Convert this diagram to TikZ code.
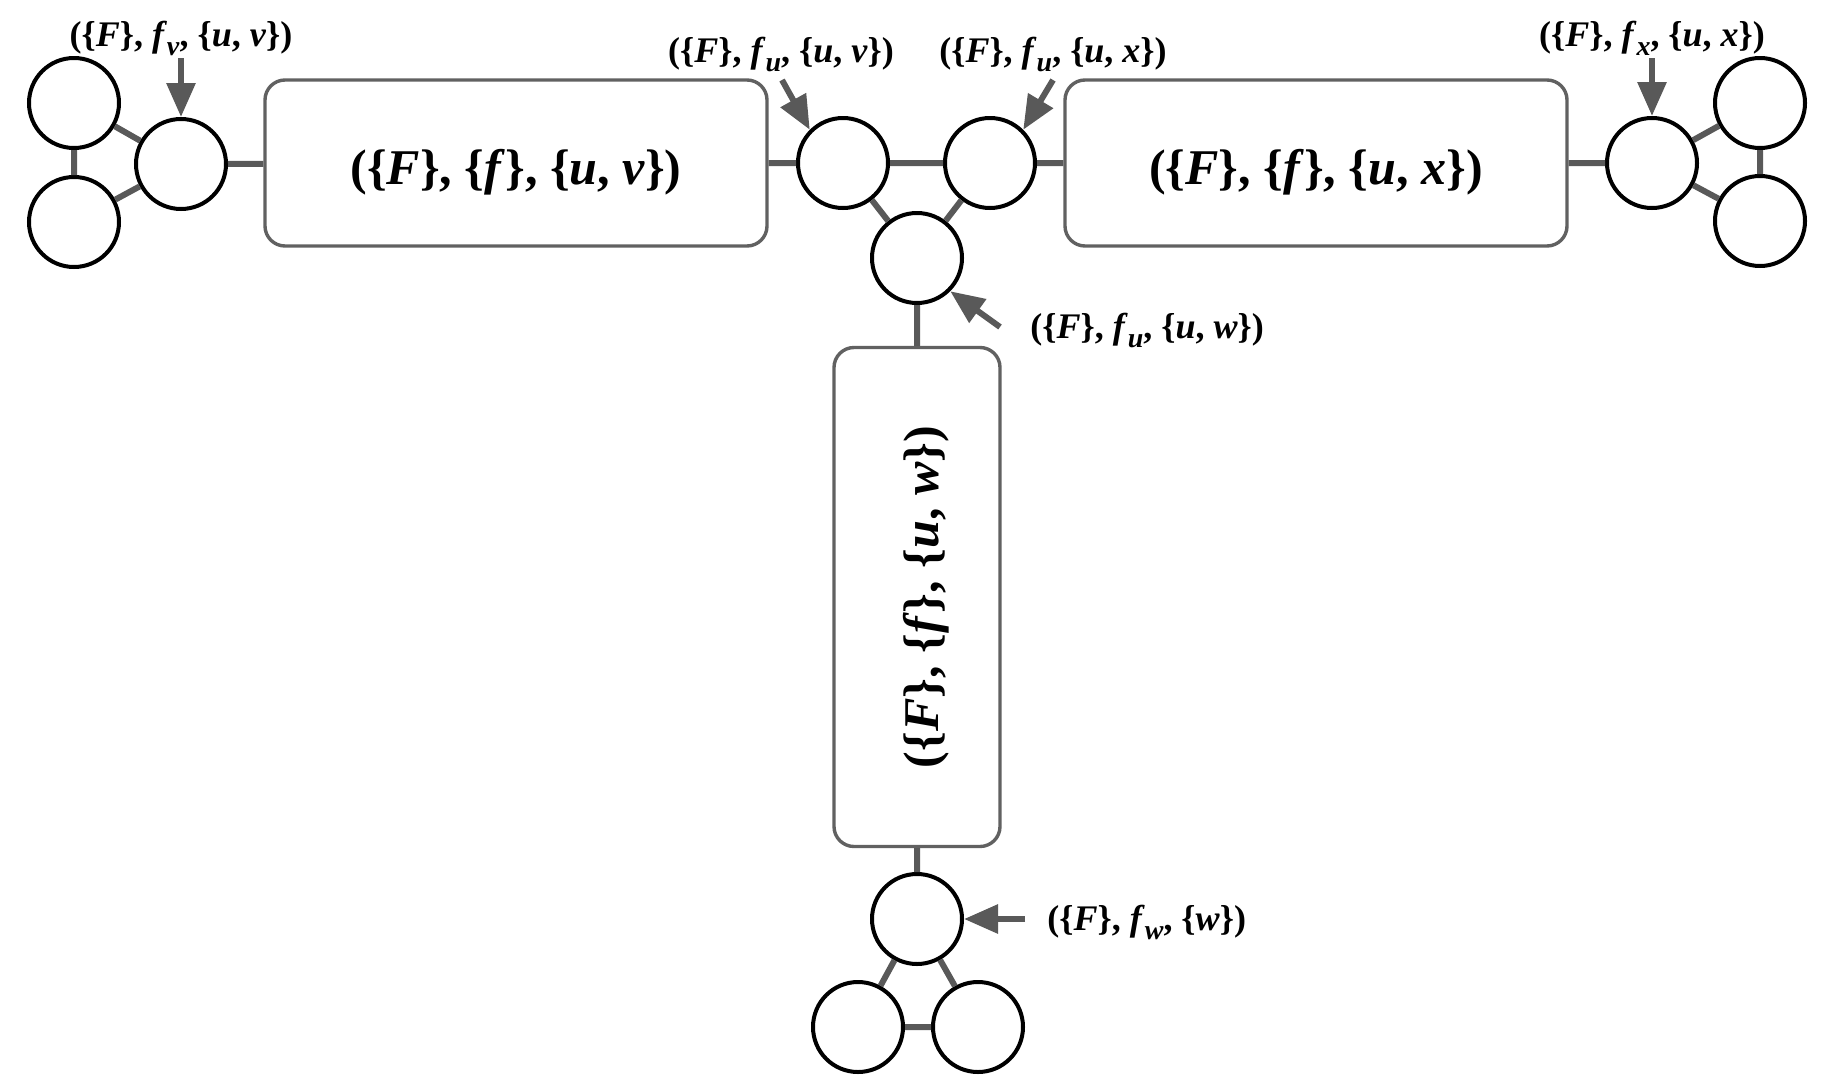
\documentclass[tikz,border=0pt]{standalone}
\usepackage{fontspec}
\setmainfont{Liberation Serif}
\usetikzlibrary{arrows.meta,positioning,calc}
\definecolor{edgegray}{HTML}{595959}
\definecolor{boxgray}{HTML}{616161}
\newcommand{\mv}[1]{\textit{#1}}
\newcommand{\lowsub}[1]{\raisebox{-0.55ex}{\fontsize{14}{14}\selectfont\textit{#1}}}
\newcommand{\sunk}[1]{\raisebox{-4pt}[18pt][5pt]{#1}}

\begin{document}
\begin{tikzpicture}[x=0.5pt,y=-0.5pt,
  vert/.style={circle,draw=black,line width=2pt,fill=white,minimum size=45pt,inner sep=0pt},
  bag/.style={draw=boxgray,line width=1.7pt,rounded corners=10pt,fill=white,inner sep=0pt,font=\fontsize{25}{29}\selectfont\bfseries},
  tag/.style={font=\fontsize{18}{21}\selectfont\bfseries,inner sep=0pt},
  link/.style={draw=edgegray,line width=3pt},
  pointer/.style={draw=edgegray,line width=3pt,-{Triangle[length=17pt,width=14pt]}}]
\useasboundingbox (0,0) rectangle (1836,1082);
\node[vert] (vtl) at (74,103) {};\node[vert] (vbl) at (74,222) {};\node[vert] (vhub) at (181,164) {};
\node[bag,minimum width=251pt,minimum height=83pt] (buv) at (516,163) {\sunk{(\{\mv{F}\}, \{\mv{f}\}, \{\mv{u}, \mv{v}\})}};
\node[vert] (ua) at (843,163) {};\node[vert] (ub) at (990,163) {};\node[vert] (uc) at (917,258) {};
\node[bag,minimum width=251pt,minimum height=83pt] (bux) at (1316,163) {\sunk{(\{\mv{F}\}, \{\mv{f}\}, \{\mv{u}, \mv{x}\})}};
\node[vert] (xhub) at (1652,163) {};\node[vert] (xtr) at (1760,103) {};\node[vert] (xbr) at (1760,221) {};
\node[bag,minimum width=83pt,minimum height=249.5pt] (buw) at (917,597) {\rotatebox{90}{\sunk{(\{\mv{F}\}, \{\mv{f}\}, \{\mv{u}, \mv{w}\})}}};
\node[vert] (whub) at (917,919) {};\node[vert] (wl) at (858,1027) {};\node[vert] (wr) at (978,1027) {};
\draw[link] (vtl)--(vbl) (vtl)--(vhub) (vbl)--(vhub) (vhub)--(buv) (buv)--(ua) (ua)--(ub) (ua)--(uc) (ub)--(uc) (ub)--(bux);
\draw[link] (bux)--(xhub) (xhub)--(xtr) (xhub)--(xbr) (xtr)--(xbr) (uc)--(buw) (buw)--(whub) (whub)--(wl) (whub)--(wr) (wl)--(wr);
\node[tag,anchor=base] (lv) at (181,46) {(\{\mv{F}\}, \mv{f}\lowsub{v}, \{\mv{u}, \mv{v}\})};
\node[tag,anchor=base] (luv) at (781,62) {(\{\mv{F}\}, \mv{f}\lowsub{u}, \{\mv{u}, \mv{v}\})};
\node[tag,anchor=base] (lux) at (1053,62) {(\{\mv{F}\}, \mv{f}\lowsub{u}, \{\mv{u}, \mv{x}\})};
\node[tag,anchor=base] (lx) at (1652,46) {(\{\mv{F}\}, \mv{f}\lowsub{x}, \{\mv{u}, \mv{x}\})};
\node[tag,anchor=base west] (luw) at (1030,338) {(\{\mv{F}\}, \mv{f}\lowsub{u}, \{\mv{u}, \mv{w}\})};
\node[tag,anchor=base west] (lw) at (1047,930) {(\{\mv{F}\}, \mv{f}\lowsub{w}, \{\mv{w}\})};
\coordinate (tv) at (181,58);\coordinate (tuv) at (782,80);\coordinate (tux) at (1053,80);
\coordinate (tx) at (1652,58);\coordinate (tuw) at (1000,327);\coordinate (tw) at (1025,919);
\draw[pointer] (tv)--(vhub.north);\draw[pointer] (tuv)--(ua.135);\draw[pointer] (tux)--(ub.45);
\draw[pointer] (tx)--(xhub.north);\draw[pointer] (tuw)--(uc.-45);\draw[pointer] (tw)--(whub.east);
\end{tikzpicture}
\end{document}
